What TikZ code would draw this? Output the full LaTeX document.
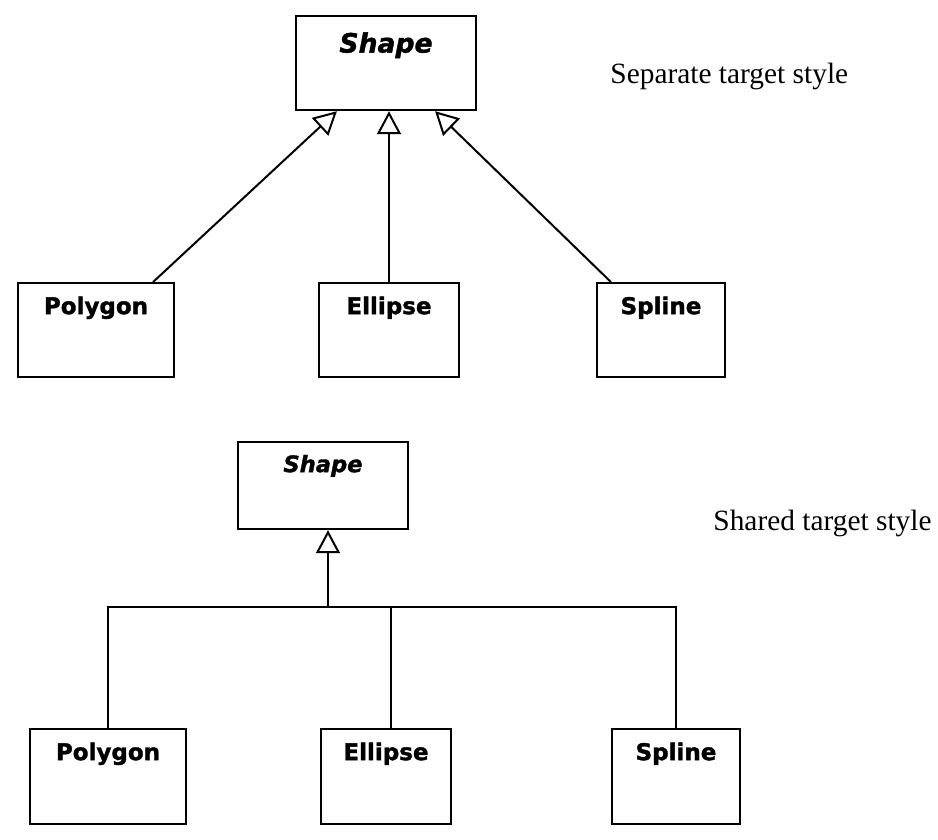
\documentclass[tikz,border=0pt]{standalone}
\usepackage{fontspec}
\setmainfont{Liberation Serif}
\newfontfamily\umlfont[BoldFeatures={FakeBold=1.5}, BoldItalicFeatures={FakeBold=1.5}]{DejaVu Sans}
\usepackage{tikz}
\usetikzlibrary{arrows.meta,calc}

\tikzset{
  classbox/.style={draw, line width=1.1pt, inner sep=0pt, anchor=north,
    minimum height=47pt, text height=15.5pt, text depth=31.5pt,
    font=\umlfont\bfseries\fontsize{11.5}{13}\selectfont},
  abstractbox/.style={classbox, font=\umlfont\bfseries\itshape\fontsize{#1}{15}\selectfont},
  inherit/.style={line width=1pt, -{Triangle[open, width=12pt, length=11.5pt, line width=1pt]}},
  treeline/.style={line width=1pt},
  caption/.style={anchor=base west, inner sep=0pt, font=\fontsize{14.7}{17}\selectfont}
}

\begin{document}
\begin{tikzpicture}[x=0.5pt, y=-0.5pt]
    \def\barY{607}

    \useasboundingbox (0,0) rectangle (938,840);

    % separate target style
    \node[abstractbox=13.3, minimum width=90pt, text height=17.5pt, text depth=28pt] (shapeA) at (386,15) {Shape};
    \node[classbox, minimum width=78pt] (polyA) at (96,282) {Polygon};
    \node[classbox, minimum width=70pt] (ellA) at (389,282) {Ellipse};
    \node[classbox, minimum width=64pt] (splA) at (661,282) {Spline};
    \node[caption] (capA) at (610,84) {Separate target style};

    \draw[inherit] ($(polyA.north east)+(-22,0)$) -- ($(shapeA.south west)+(42,0)$);
    \draw[inherit] (ellA.north) -- (ellA.north |- shapeA.south);
    \draw[inherit] ($(splA.north west)+(15,0)$) -- ($(shapeA.south east)+(-42,0)$);

    % shared target style
    \node[abstractbox=11.3, minimum width=85pt, minimum height=43.5pt, text height=15pt, text depth=28.5pt] (shapeB) at (323,441) {Shape};
    \node[classbox, minimum width=78pt, minimum height=47.5pt, text depth=32pt] (polyB) at (108,728) {Polygon};
    \node[classbox, minimum width=65pt, minimum height=47.5pt, text depth=32pt] (ellB) at (386,728) {Ellipse};
    \node[classbox, minimum width=64pt, minimum height=47.5pt, text depth=32pt] (splB) at (676,728) {Spline};
    \node[caption] (capB) at (713,530) {Shared target style};

    \coordinate (junc) at (328,\barY);
    \draw[inherit] (junc) -- (junc |- shapeB.south);
    \draw[treeline] (polyB.north) -- (polyB.north |- junc) -- (splB.north |- junc) -- (splB.north);
    \draw[treeline] ($(ellB.north)+(5,0)$) -- ($(ellB.north |- junc)+(5,0)$);

\end{tikzpicture}
\end{document}
